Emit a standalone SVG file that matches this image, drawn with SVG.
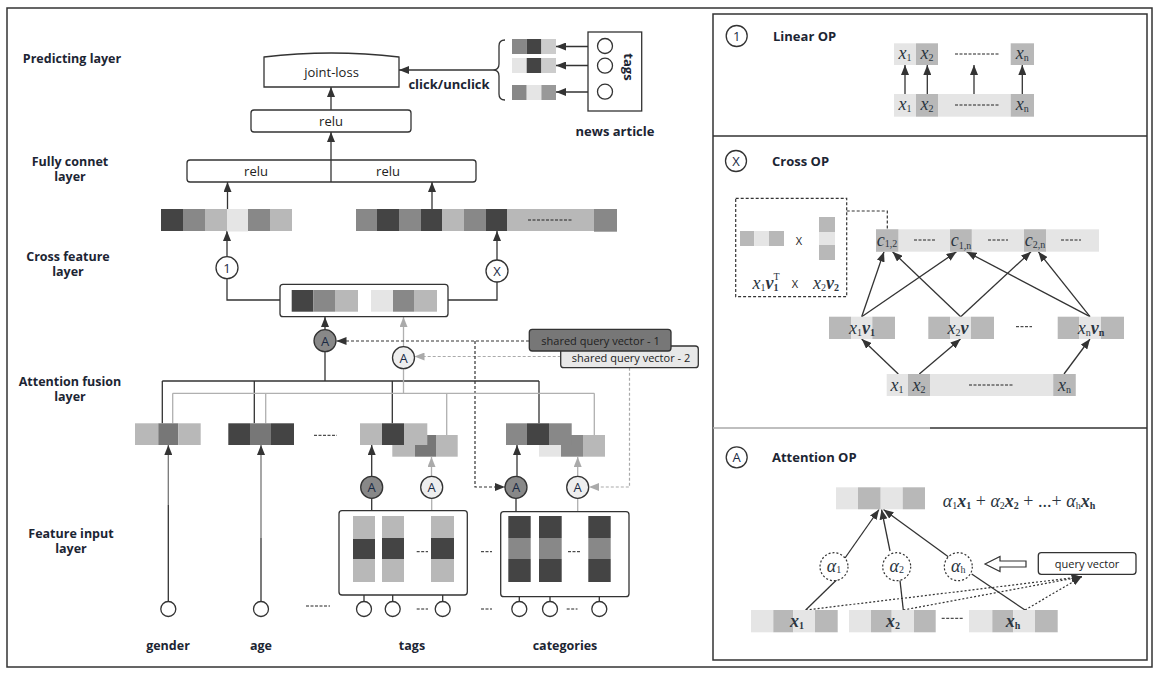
<svg xmlns="http://www.w3.org/2000/svg" width="1157" height="676" viewBox="0 0 1157 676">
<style>
.frame{fill:none;stroke:#333;stroke-width:1.5}
.box{fill:#fff;stroke:#333;stroke-width:1.3}
.ln{fill:none;stroke:#333;stroke-width:1.3}
.lg{fill:none;stroke:#b0b0b0;stroke-width:1.3}
.dk{fill:none;stroke:#333;stroke-width:1.2;stroke-dasharray:3,2}
.dg{fill:none;stroke:#aaa;stroke-width:1.2;stroke-dasharray:3,2}
.dt{fill:none;stroke:#333;stroke-width:1.2;stroke-dasharray:2,2}
.a{marker-end:url(#ah)}
.ag{marker-end:url(#ahg)}
.c1{fill:#444}.c2{fill:#777}.c3{fill:#888}.c4{fill:#b8b8b8}.c5{fill:#e5e5e5}.c6{fill:#ccc}
.lbl{font-family:"Open Sans","Noto Sans",sans-serif;font-weight:bold;font-size:12.5px;fill:#1c2533;text-anchor:middle}
.ttl{font-family:"Open Sans","Noto Sans",sans-serif;font-weight:bold;font-size:13px;fill:#1c2533}
.reg{font-family:"Open Sans","Noto Sans",sans-serif;font-size:13px;fill:#222;text-anchor:middle;dominant-baseline:central}
.sm{font-family:"Open Sans","Noto Sans",sans-serif;font-size:11px;fill:#222;text-anchor:middle;dominant-baseline:central}
.cir{fill:#fff;stroke:#333;stroke-width:1.3}
.cdk{fill:#888;stroke:#333;stroke-width:1.3}
.clt{fill:#eee;stroke:#333;stroke-width:1.3}
.ct{font-family:"Open Sans","Noto Sans",sans-serif;font-size:13px;fill:#1a2a44;text-anchor:middle;dominant-baseline:central}
.m{font-family:"Liberation Serif","DejaVu Serif",serif;font-style:italic;font-size:18px;fill:#2b3540;text-anchor:middle}
.s{font-style:normal;font-size:10px}
.b{font-weight:bold}
</style>
<defs>
<marker id="ah" viewBox="0 0 10 8" refX="10" refY="4" markerWidth="10" markerHeight="8" orient="auto" markerUnits="userSpaceOnUse"><path d="M0,0 L10,4 L0,8 z" fill="#333"/></marker>
<marker id="ahg" viewBox="0 0 10 8" refX="10" refY="4" markerWidth="10" markerHeight="8" orient="auto" markerUnits="userSpaceOnUse"><path d="M0,0 L10,4 L0,8 z" fill="#aaa"/></marker>
</defs>
<rect x="0" y="0" width="1157" height="676" fill="#fff"/>
<rect class="frame" x="7" y="8" width="1145" height="659"/>
<rect class="frame" x="713" y="14" width="434" height="646"/>
<line class="frame" x1="713" y1="136" x2="1147" y2="136"/>
<line x1="713" y1="428" x2="930" y2="428" stroke="#aaa" stroke-width="1.5"/>
<line x1="930" y1="428" x2="1147" y2="428" stroke="#333" stroke-width="1.5"/>

<g id="layer-labels">
<text class="lbl" x="72" y="63">Predicting layer</text>
<text class="lbl" x="70" y="166">Fully connet</text>
<text class="lbl" x="70" y="181">layer</text>
<text class="lbl" x="68" y="261">Cross feature</text>
<text class="lbl" x="68" y="276">layer</text>
<text class="lbl" x="70" y="386">Attention fusion</text>
<text class="lbl" x="70" y="401">layer</text>
<text class="lbl" x="71" y="538">Feature input</text>
<text class="lbl" x="71" y="553">layer</text>
<text class="lbl" x="168" y="650">gender</text>
<text class="lbl" x="261" y="650">age</text>
<text class="lbl" x="412" y="650">tags</text>
<text class="lbl" x="565" y="650">categories</text>
</g>

<g id="connectors">
<path class="ln a" d="M331,110 V87"/>
<path class="ln a" d="M331,160 V132"/>
<path class="ln a" d="M493,70 H399"/>
<path class="ln" d="M505,40 Q499,40 499,46 V64 Q499,70 493,70 Q499,70 499,76 V94 Q499,100 505,100"/>
<path class="ln a" d="M597,46.5 H556"/>
<path class="ln a" d="M597,65.5 H556"/>
<path class="ln a" d="M597,92 H556"/>
<path class="ln a" d="M227.5,209 V182"/>
<path class="ln a" d="M227,256.7 V231"/>
<path class="ln" d="M227,278.7 V300 H280"/>
<path class="ln a" d="M432,209 V182"/>
<path class="ln a" d="M497,260 V231"/>
<path class="ln" d="M497,282 V300 H448"/>
<path class="ln a" d="M325,329.7 V317"/>
<path class="lg ag" d="M403.5,346.7 V317"/>
<path class="dk a" d="M529,341 H336.5"/>
<path class="dg ag" d="M560.7,356.5 H414.5"/>
<path class="dk a" d="M475,341 V487 H505"/>
<path class="dg ag" d="M629.5,367.7 V487 H589"/>
<path class="ln" d="M325,351.7 V381 M162.3,381 H539 M162.3,381 V423.3 M254.3,381 V423.3 M392.3,381 V423.3 M539,381 V423.3"/>
<path class="lg" d="M403.5,368.7 V393.3 M172.7,393.3 H594.3 M172.7,393.3 V423.3 M265.7,393.3 V423.3 M446.7,393.3 V435 M594.3,393.3 V435"/>
<path class="ln a" d="M371.7,476.3 V445"/>
<path class="lg ag" d="M431.5,476.3 V457"/>
<path class="ln a" d="M517,476.3 V445"/>
<path class="lg ag" d="M577.7,476.3 V457"/>
<path class="ln" d="M371.7,498.3 V510.7 M516,498.3 V511.7"/>
<path class="lg" d="M431.7,498.3 V510.7 M577.7,498.3 V511.7"/>
<path d="M168.3,601.5 V505" stroke="#333" stroke-width="1.3" fill="none"/>
<path d="M168.3,505 V445" stroke="#777" stroke-width="1.3" fill="none" marker-end="url(#ah)"/>
<path d="M261,601.5 V538" stroke="#333" stroke-width="1.3" fill="none"/>
<path d="M261,538 V445" stroke="#777" stroke-width="1.3" fill="none" marker-end="url(#ah)"/>
<path class="ln a" d="M364,601.5 V582"/>
<path class="ln a" d="M392.7,601.5 V582"/>
<path class="ln a" d="M442.7,601.5 V582"/>
<path class="ln a" d="M519.3,601.5 V582"/>
<path class="ln a" d="M550,601.5 V582"/>
<path class="ln a" d="M599.3,601.5 V582"/>
<path class="ln a" d="M905,94 V65"/>
<path class="ln a" d="M927.3,94 V65"/>
<path class="ln a" d="M974,94 V65"/>
<path class="ln a" d="M1022.3,94 V65"/>
<path class="dk" d="M846.7,211 H887.3 V229.3"/>
<path class="ln a" d="M898.3,374 L861.7,339"/>
<path class="ln a" d="M919.3,374 L960.5,339"/>
<path class="ln a" d="M1064,374 L1090,339"/>
<path class="ln a" d="M861.7,316.7 L884,251.7"/>
<path class="ln a" d="M861.7,316.7 L956.5,251.7"/>
<path class="ln a" d="M960.7,316.7 L892.5,251.7"/>
<path class="ln a" d="M960.7,316.7 L1031,251.7"/>
<path class="ln a" d="M1090,316.7 L966.5,251.7"/>
<path class="ln a" d="M1090,316.7 L1038.3,251.7"/>
<path class="ln a" d="M845,558 L879,509.5"/>
<path class="ln a" d="M890,551 L881.5,509.5"/>
<path class="ln a" d="M948.3,556.7 L883.5,509.5"/>
<path class="ln" d="M805.7,610 L838.3,578.3"/>
<path class="ln" d="M903.3,610 L900,580.5"/>
<path class="ln" d="M1025,610 L971.7,574"/>
<path class="dt a" d="M805.7,610 L1081.7,576.7"/>
<path class="dt a" d="M903.3,610 L1081.7,576.7"/>
<path class="dt a" d="M1025,610 L1081.7,576.7"/>
<polygon points="985,564 1000,556.5 1000,561 1026,561 1026,567 1000,567 1000,571.5" fill="#fff" stroke="#333" stroke-width="1.2"/>
</g>

<g id="joint-loss">
<path class="box" d="M264,87 V57 Q331,49 399,57 V87 Z"/>
<text class="reg" x="331.5" y="72">joint-loss</text>
</g>
<g id="relu-top">
<rect class="box" x="251" y="110" width="160" height="22" rx="3"/>
<text class="reg" x="331" y="121">relu</text>
</g>
<g id="fully-connect">
<rect class="box" x="187" y="160" width="289" height="22" rx="3"/>
<line class="ln" x1="331" y1="160" x2="331" y2="182"/>
<text class="reg" x="256" y="171">relu</text>
<text class="reg" x="388" y="171">relu</text>
</g>
<g id="click-label">
<text class="ttl" x="449" y="89" text-anchor="middle">click/unclick</text>
</g>
<g id="tag-vectors">
<rect class="c3" x="512" y="39" width="14.7" height="15"/><rect class="c1" x="526.7" y="39" width="14.7" height="15"/><rect class="c6" x="541.4" y="39" width="14.6" height="15"/>
<rect class="c5" x="512" y="58" width="14.7" height="15"/><rect class="c1" x="526.7" y="58" width="14.7" height="15"/><rect class="c6" x="541.4" y="58" width="14.6" height="15"/>
<rect class="c3" x="512" y="85" width="14.7" height="15"/><rect class="c5" x="526.7" y="85" width="14.7" height="15"/><rect x="541.4" y="85" width="14.6" height="15" fill="#999"/>
</g>
<g id="news-article">
<rect x="588" y="32" width="53.7" height="79" fill="#fff" stroke="#333" stroke-width="1.3"/>
<circle class="cir" cx="605" cy="46" r="7.5"/>
<circle class="cir" cx="605" cy="65.7" r="7.5"/>
<circle class="cir" cx="605" cy="91.7" r="7.5"/>
<text class="ttl" x="0" y="0" text-anchor="middle" dominant-baseline="central" transform="translate(629,67) rotate(90)">tags</text>
<text class="ttl" x="615" y="136" text-anchor="middle">news article</text>
</g>

<g id="cross-vector-left">
<rect class="c1" x="161" y="209" width="22" height="22"/><rect class="c3" x="183" y="209" width="22" height="22"/><rect class="c4" x="205" y="209" width="22" height="22"/><rect class="c5" x="227" y="209" width="21" height="22.5"/><rect class="c3" x="248" y="209" width="22" height="22"/><rect class="c4" x="270" y="209" width="22" height="22"/>
</g>
<g id="cross-vector-right">
<rect class="c3" x="356" y="209" width="21" height="22"/><rect class="c1" x="377" y="209" width="22" height="22"/><rect class="c3" x="399" y="209" width="22" height="22"/><rect class="c1" x="421" y="209" width="21" height="22"/><rect class="c4" x="442" y="209" width="22" height="22"/><rect class="c3" x="464" y="209" width="22" height="22"/><rect class="c1" x="486" y="209" width="21" height="22"/><rect class="c4" x="507" y="209" width="87" height="22"/><rect class="c3" x="594" y="209" width="23" height="22.7"/>
<line x1="528" y1="220" x2="573" y2="220" stroke="#222" stroke-width="1" stroke-dasharray="3,1.5"/>
</g>
<g id="op-linear-circle">
<circle class="cir" cx="227" cy="267.7" r="11"/>
<text class="ct" x="227" y="267.7">1</text>
</g>
<g id="op-cross-circle">
<circle class="cir" cx="497" cy="271" r="11"/>
<text class="ct" x="497" y="271">X</text>
</g>
<g id="fusion-box">
<rect class="box" x="280" y="284.3" width="168" height="32.4" rx="3"/>
<rect class="c1" x="291.7" y="290" width="21.6" height="21.7"/><rect class="c3" x="313.3" y="290" width="21.7" height="21.7"/><rect class="c4" x="335" y="290" width="23" height="21.7"/>
<rect class="c5" x="371" y="290" width="22" height="21.7"/><rect class="c3" x="393" y="290" width="21" height="21.7"/><rect class="c4" x="414" y="290" width="23" height="21.7"/>
</g>
<g id="attn-fuse-dark">
<circle class="cdk" cx="325" cy="340.7" r="11"/>
<text class="ct" x="325" y="340.7">A</text>
</g>
<g id="attn-fuse-light">
<circle class="clt" cx="403.5" cy="357.7" r="11"/>
<text class="ct" x="403.5" y="357.7">A</text>
</g>
<g id="shared-query-2">
<rect x="560.7" y="346" width="137.6" height="21.7" rx="3" fill="#e8e8e8" stroke="#333" stroke-width="1.3"/>
<text class="sm" x="631" y="357.5">shared query vector - 2</text>
</g>
<g id="shared-query-1">
<rect x="529.3" y="329.3" width="141.7" height="21.7" rx="3" fill="#777" stroke="#333" stroke-width="1.3"/>
<text class="sm" x="600.5" y="340.5">shared query vector - 1</text>
</g>

<g id="gender-vector">
<rect class="c4" x="135" y="423.3" width="23.3" height="21.7"/><rect class="c2" x="158.3" y="423.3" width="20" height="21.7"/><rect class="c4" x="178.3" y="423.3" width="22.4" height="21.7"/>
</g>
<g id="age-vector">
<rect class="c1" x="228.3" y="423.3" width="21.7" height="21.7"/><rect class="c2" x="250" y="423.3" width="21" height="21.7"/><rect class="c1" x="271" y="423.3" width="23" height="21.7"/>
</g>
<line x1="314" y1="435.3" x2="337" y2="435.3" stroke="#222" stroke-width="1" stroke-dasharray="3,1.5"/>
<g id="tags-vector">
<rect class="c4" x="392.3" y="435" width="22.7" height="21.7"/><rect class="c2" x="415" y="435" width="21" height="21.7"/><rect class="c4" x="436" y="435" width="21.7" height="21.7"/>
<rect class="c4" x="360" y="423.3" width="22" height="21.7"/><rect class="c1" x="382" y="423.3" width="22" height="21.7"/><rect class="c4" x="404" y="423.3" width="23.3" height="21.7"/>
</g>
<g id="categories-vector">
<rect class="c5" x="539" y="435" width="22" height="21.7"/><rect class="c3" x="561" y="435" width="22" height="21.7"/><rect class="c4" x="583" y="435" width="22" height="21.7"/>
<rect class="c3" x="506" y="423.3" width="21" height="21.7"/><rect class="c1" x="527" y="423.3" width="22" height="21.7"/><rect class="c3" x="549" y="423.3" width="22.7" height="21.7"/>
</g>

<g id="attn-tags-dark"><circle class="cdk" cx="371.7" cy="487.3" r="11"/><text class="ct" x="371.7" y="487.3">A</text></g>
<g id="attn-tags-light"><circle class="clt" cx="431.7" cy="487.3" r="11"/><text class="ct" x="431.7" y="487.3">A</text></g>
<g id="attn-cat-dark"><circle class="cdk" cx="516" cy="487.3" r="11"/><text class="ct" x="516" y="487.3">A</text></g>
<g id="attn-cat-light"><circle class="clt" cx="577.7" cy="487.3" r="11"/><text class="ct" x="577.7" y="487.3">A</text></g>

<g id="tags-input">
<rect class="box" x="339" y="510.7" width="128.3" height="84.3" rx="3" stroke-width="1.6"/>
<rect class="c4" x="353" y="516" width="22" height="23"/><rect class="c1" x="353" y="539" width="22" height="20"/><rect class="c4" x="353" y="559" width="22" height="23"/>
<rect class="c4" x="382" y="516" width="22" height="22"/><rect class="c1" x="382" y="538" width="22" height="21"/><rect class="c4" x="382" y="559" width="22" height="23"/>
<rect class="c4" x="431" y="516" width="23" height="22"/><rect class="c1" x="431" y="538" width="23" height="21"/><rect class="c4" x="431" y="559" width="23" height="23"/>
<line x1="416.7" y1="551.7" x2="428" y2="551.7" stroke="#222" stroke-width="1" stroke-dasharray="3,1.5"/>
</g>
<g id="categories-input">
<rect class="box" x="500.7" y="511.7" width="128.3" height="85" rx="3" stroke-width="1.6"/>
<rect class="c1" x="508.3" y="516" width="22.4" height="22"/><rect class="c3" x="508.3" y="538" width="22.4" height="21"/><rect class="c1" x="508.3" y="559" width="22.4" height="23"/>
<rect class="c1" x="539" y="516" width="22.7" height="22"/><rect class="c3" x="539" y="538" width="22.7" height="21"/><rect class="c1" x="539" y="559" width="22.7" height="23"/>
<rect class="c1" x="588.3" y="516" width="22.4" height="22"/><rect class="c3" x="588.3" y="538" width="22.4" height="21"/><rect class="c1" x="588.3" y="559" width="22.4" height="23"/>
<line x1="568" y1="551.7" x2="581" y2="551.7" stroke="#222" stroke-width="1" stroke-dasharray="3,1.5"/>
</g>
<line x1="481" y1="551.7" x2="492" y2="551.7" stroke="#222" stroke-width="1" stroke-dasharray="3,1.5"/>
<g id="input-circles">
<circle class="cir" cx="168.3" cy="609" r="7.5"/>
<circle class="cir" cx="261" cy="609" r="7.5"/>
<circle class="cir" cx="364" cy="609" r="7.5"/>
<circle class="cir" cx="392.7" cy="609" r="7.5"/>
<circle class="cir" cx="442.7" cy="609" r="7.5"/>
<circle class="cir" cx="519.3" cy="609" r="7.5"/>
<circle class="cir" cx="550" cy="609" r="7.5"/>
<circle class="cir" cx="599.3" cy="609" r="7.5"/>
<path d="M306,606 H330 M416.7,609 H428 M481,609 H492 M566.7,609 H577.5" stroke="#222" stroke-width="1" stroke-dasharray="3,1.5" fill="none"/>
</g>

<g id="linear-op">
<circle class="cir" cx="736.7" cy="36" r="10.5"/>
<text class="ct" x="736.7" y="36">1</text>
<text class="ttl" x="773" y="40.5">Linear OP</text>
<rect class="c5" x="894" y="43.3" width="22" height="21.7"/><rect class="c4" x="916" y="43.3" width="22" height="21.7"/><rect class="c4" x="1010.7" y="43.3" width="23.3" height="21.7"/>
<line x1="955" y1="54" x2="1000" y2="54" stroke="#222" stroke-width="1" stroke-dasharray="3,1.5"/>
<rect class="c5" x="894" y="94" width="22" height="22.7"/><rect class="c4" x="916" y="94" width="22" height="22.7"/><rect class="c5" x="938" y="94" width="72.7" height="22.7"/><rect class="c4" x="1010.7" y="94" width="23.3" height="22.7"/>
<line x1="955" y1="105" x2="1000" y2="105" stroke="#222" stroke-width="1" stroke-dasharray="3,1.5"/>
<text class="m" x="905" y="59">x<tspan class="s" dy="2">1</tspan></text>
<text class="m" x="927" y="59">x<tspan class="s" dy="2">2</tspan></text>
<text class="m" x="1022.3" y="59">x<tspan class="s" dy="2">n</tspan></text>
<text class="m" x="905" y="110">x<tspan class="s" dy="2">1</tspan></text>
<text class="m" x="927" y="110">x<tspan class="s" dy="2">2</tspan></text>
<text class="m" x="1022.3" y="110">x<tspan class="s" dy="2">n</tspan></text>
</g>

<g id="cross-op">
<circle class="cir" cx="736" cy="161" r="10.5"/>
<text class="ct" x="736" y="161">X</text>
<text class="ttl" x="772" y="165.5">Cross OP</text>
<rect class="dk" x="735.7" y="198.3" width="111" height="98.4"/>
<rect class="c4" x="740" y="231" width="14.3" height="15"/><rect class="c5" x="754.3" y="231" width="14.7" height="15"/><rect class="c4" x="769" y="231" width="15" height="15"/>
<text class="sm" x="799" y="240" font-size="12">X</text>
<rect class="c4" x="819" y="217" width="16" height="15"/><rect class="c5" x="819" y="232" width="16" height="13"/><rect class="c4" x="819" y="245" width="16" height="15"/>
<text class="m" x="766" y="289" font-size="16">x<tspan class="s" dy="2">1</tspan><tspan class="b" dy="-2">v</tspan><tspan class="s b" dy="2">1</tspan><tspan class="s" dx="-5" dy="-11">T</tspan></text>
<text class="sm" x="795" y="283" font-size="12">X</text>
<text class="m" x="826" y="289" font-size="16">x<tspan class="s" dy="2">2</tspan><tspan class="b" dy="-2">v</tspan><tspan class="s b" dy="2">2</tspan></text>
<rect class="c5" x="876" y="229.3" width="223" height="22.4"/>
<rect class="c4" x="876" y="229.3" width="22.3" height="22.4"/><rect class="c4" x="950" y="229.3" width="21.7" height="22.4"/><rect class="c4" x="1024" y="229.3" width="22" height="22.4"/>
<path d="M914,240 H935 M988,240 H1008 M1061,240 H1081" stroke="#222" stroke-width="1" stroke-dasharray="3,1.5" fill="none"/>
<text class="m" x="887" y="246" font-size="17">c<tspan class="s" dy="1">1,2</tspan></text>
<text class="m" x="961" y="246" font-size="17">c<tspan class="s" dy="3">1,n</tspan></text>
<text class="m" x="1035" y="246" font-size="17">c<tspan class="s" dy="2">2,n</tspan></text>
<rect class="c4" x="829" y="316.7" width="22" height="22.3"/><rect class="c5" x="851" y="316.7" width="21.3" height="22.3"/><rect class="c4" x="872.3" y="316.7" width="22.7" height="22.3"/>
<rect class="c4" x="928.3" y="316.7" width="21.7" height="22.3"/><rect class="c5" x="950" y="316.7" width="21" height="22.3"/><rect class="c4" x="971" y="316.7" width="23" height="22.3"/>
<rect class="c4" x="1057.7" y="316.7" width="21.3" height="22.3"/><rect class="c5" x="1079" y="316.7" width="22" height="22.3"/><rect class="c4" x="1101" y="316.7" width="23" height="22.3"/>
<line x1="1016" y1="326.7" x2="1032" y2="326.7" stroke="#222" stroke-width="1" stroke-dasharray="3,1.5"/>
<text class="m" x="862" y="334" font-size="17">x<tspan class="s" dy="2">1</tspan><tspan class="b" dy="-2">v</tspan><tspan class="s b" dy="2">1</tspan></text>
<text class="m" x="958" y="334" font-size="17">x<tspan class="s" dy="2">2</tspan><tspan class="b" dy="-2">v</tspan></text>
<text class="m" x="1091" y="334" font-size="17">x<tspan class="s" dy="2">n</tspan><tspan class="b" dy="-2">v</tspan><tspan class="s b" dy="2">n</tspan></text>
<rect class="c5" x="886.7" y="374" width="189" height="22"/>
<rect class="c4" x="908" y="374" width="22" height="22"/><rect class="c4" x="1053.3" y="374" width="22.4" height="22"/>
<line x1="969" y1="385" x2="1014" y2="385" stroke="#222" stroke-width="1" stroke-dasharray="3,1.5"/>
<text class="m" x="897" y="391" font-size="17">x<tspan class="s" dy="2">1</tspan></text>
<text class="m" x="919" y="391" font-size="17">x<tspan class="s" dy="2">2</tspan></text>
<text class="m" x="1064.5" y="391" font-size="17">x<tspan class="s" dy="2">n</tspan></text>
</g>

<g id="attention-op">
<circle class="cir" cx="736.7" cy="457.3" r="10.5"/>
<text class="ct" x="736.7" y="457.3">A</text>
<text class="ttl" x="772" y="461.5">Attention OP</text>
<rect class="c5" x="836" y="487.3" width="22" height="22"/><rect class="c4" x="858" y="487.3" width="22.7" height="22"/><rect class="c5" x="880.7" y="487.3" width="22" height="22"/><rect class="c4" x="902.7" y="487.3" width="22.3" height="22"/>
<text class="m" x="1019" y="507" font-size="15">α<tspan class="s" dy="2">1</tspan><tspan class="b" dy="-2">x</tspan><tspan class="s b" dy="2">1</tspan><tspan font-style="normal" dy="-2"> + </tspan>α<tspan class="s" dy="2">2</tspan><tspan class="b" dy="-2">x</tspan><tspan class="s b" dy="2">2</tspan><tspan font-style="normal" dy="-2">  + ...+ </tspan>α<tspan class="s" dy="2">h</tspan><tspan class="b" dy="-2">x</tspan><tspan class="s b" dy="2">h</tspan></text>
<circle cx="834" cy="566.7" r="14" fill="#fff" stroke="#333" stroke-width="1.2" stroke-dasharray="2,2"/>
<circle cx="896.7" cy="566.7" r="14" fill="#fff" stroke="#333" stroke-width="1.2" stroke-dasharray="2,2"/>
<circle cx="958.3" cy="566.7" r="14" fill="#fff" stroke="#333" stroke-width="1.2" stroke-dasharray="2,2"/>
<text class="m" x="834" y="572" font-size="16">α<tspan class="s" dy="1">1</tspan></text>
<text class="m" x="896.7" y="572" font-size="16">α<tspan class="s" dy="1">2</tspan></text>
<text class="m" x="958.3" y="572" font-size="16">α<tspan class="s" dy="1">h</tspan></text>
<rect x="1038.3" y="552.7" width="97.7" height="21.6" rx="3" fill="#fff" stroke="#333" stroke-width="1.3"/>
<text class="sm" x="1087" y="563.5">query vector</text>
<rect class="c5" x="751" y="610" width="22.3" height="22.3"/><rect class="c4" x="773.3" y="610" width="20" height="22.3"/><rect class="c5" x="793.3" y="610" width="21.7" height="22.3"/><rect class="c4" x="815" y="610" width="22.7" height="22.3"/>
<rect class="c5" x="849" y="610" width="22" height="22.3"/><rect class="c4" x="871" y="610" width="20.7" height="22.3"/><rect class="c5" x="891.7" y="610" width="22.3" height="22.3"/><rect class="c4" x="914" y="610" width="21.7" height="22.3"/>
<rect class="c5" x="969" y="610" width="23.3" height="22.3"/><rect class="c4" x="992.3" y="610" width="21" height="22.3"/><rect class="c5" x="1013.3" y="610" width="21.7" height="22.3"/><rect class="c4" x="1035" y="610" width="22.7" height="22.3"/>
<line x1="941.7" y1="618.3" x2="963" y2="618.3" stroke="#222" stroke-width="1" stroke-dasharray="3,1.5"/>
<text class="m b" x="797" y="627" font-size="17">x<tspan class="s" dy="2">1</tspan></text>
<text class="m b" x="893" y="627" font-size="17">x<tspan class="s" dy="2">2</tspan></text>
<text class="m b" x="1013" y="627" font-size="17">x<tspan class="s" dy="2">h</tspan></text>
</g>
</svg>
